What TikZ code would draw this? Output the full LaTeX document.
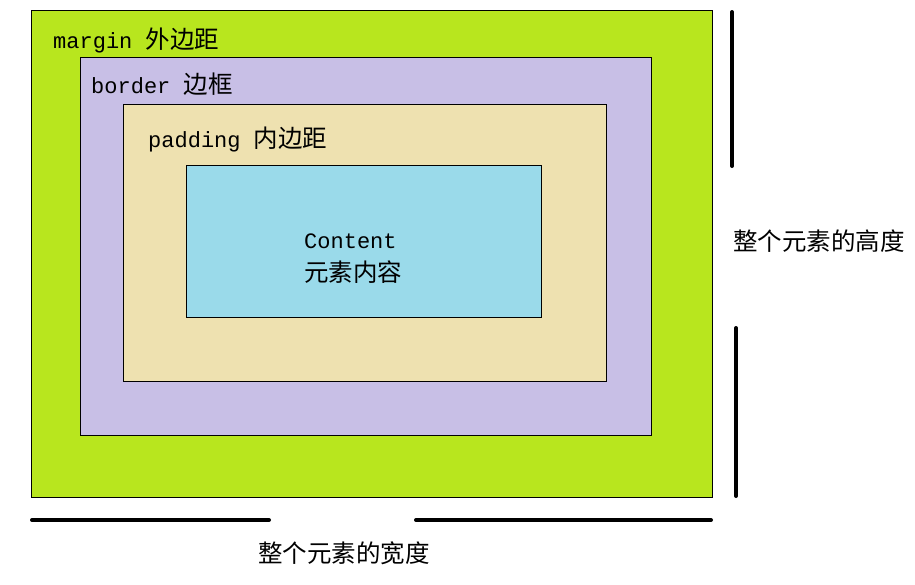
\documentclass[tikz,border=0pt]{standalone}
\usepackage{fontspec}
\setmonofont{Liberation Mono}
\newfontfamily\cjk{Noto Sans CJK SC}
\definecolor{marginc}{RGB}{184,230,30}
\definecolor{borderc}{RGB}{200,191,230}
\definecolor{paddingc}{RGB}{238,225,176}
\definecolor{contentc}{RGB}{154,218,234}
\newcommand{\cjkbig}{\cjk\fontsize{24.5}{27}\selectfont}
\begin{document}
\begin{tikzpicture}[x=1pt,y=-1pt,
  boxr/.style={draw=black,line width=0.8pt,anchor=north west,inner sep=0pt,outer sep=0pt},
  lbl/.style={anchor=west,inner sep=0pt,font=\fontsize{22}{25}\selectfont\ttfamily},
  dim/.style={line width=4pt,line cap=round},
  dimtxt/.style={inner sep=0pt,font=\cjkbig}]
\useasboundingbox (0,0) rectangle (915,584);
\node[boxr,fill=marginc,minimum width=681pt,minimum height=487pt] (margin) at (31,10) {};
\node[boxr,fill=borderc,minimum width=571pt,minimum height=378pt] (border) at (80,57) {};
\node[boxr,fill=paddingc,minimum width=483pt,minimum height=277pt] (padding) at (123,104) {};
\node[boxr,fill=contentc,minimum width=355pt,minimum height=152pt] (content) at (186,165) {};
\node[lbl] (lm) at (53,40) {margin {\cjkbig 外边距}};
\node[lbl] (lb) at (91,84) {border {\cjkbig 边框}};
\node[lbl] (lp) at (148,139) {padding {\cjkbig 内边距}};
\node[lbl] (lc1) at (304,241) {Content};
\node[lbl,font=\cjkbig] (lc2) at (304,272) {元素内容};
\coordinate (v1a) at (732,12);
\coordinate (v1b) at (732,166);
\coordinate (v2a) at (736,328);
\coordinate (v2b) at (736,496);
\coordinate (h1a) at (32,520);
\coordinate (h1b) at (269,520);
\coordinate (h2a) at (416,520);
\coordinate (h2b) at (711,520);
\draw[dim] (v1a) -- (v1b);
\draw[dim] (v2a) -- (v2b);
\draw[dim] (h1a) -- (h1b);
\draw[dim] (h2a) -- (h2b);
\node[dimtxt,anchor=west] (ht) at (733,241) {整个元素的高度};
\node[dimtxt] (wt) at (344,553) {整个元素的宽度};
\end{tikzpicture}
\end{document}
